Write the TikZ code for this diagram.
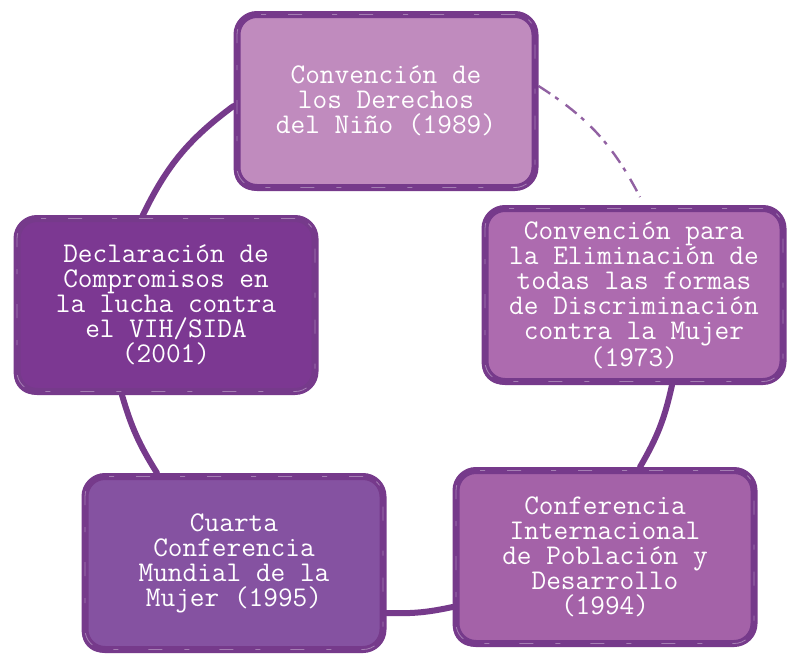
\documentclass[tikz,border=0pt]{standalone}
\usetikzlibrary{shadows,backgrounds,calc}
\definecolor{bord}{HTML}{763A8B}
\definecolor{fA}{HTML}{C08BBE}
\definecolor{fB}{HTML}{AD6BAF}
\definecolor{fC}{HTML}{A462A8}
\definecolor{fD}{HTML}{8552A1}
\definecolor{fE}{HTML}{7C3892}
\begin{document}
\begin{tikzpicture}[x=1pt,y=-1pt,
  stepbox/.style={draw=bord, fill=#1, line width=7pt, rounded corners=20pt,
    minimum width=298pt, minimum height=173pt, inner sep=0pt,
    text=white, align=center,
    font=\ttfamily\fontsize{28.5}{25}\selectfont,
    general shadow={fill=bord, shadow xshift=-3pt, shadow yshift=-3pt},
    postaction={draw=white, opacity=0.35, line width=0.8pt,
      dash pattern=on 14pt off 22pt on 5pt off 30pt}},
  link/.style={draw=bord, line width=6pt, line cap=round},
  faint/.style={draw=bord, line width=2.4pt, opacity=0.8,
    dash pattern=on 14pt off 6pt on 4pt off 9pt}]
\useasboundingbox (0,0) rectangle (787,656);
\node[stepbox=fA] (b1) at (386,101) {Convención de\\los Derechos\\del Niño (1989)};
\node[stepbox=fB] (b2) at (634,295) {Convención para\\la Eliminación de\\todas las formas\\de Discriminación\\contra la Mujer\\(1973)};
\node[stepbox=fC] (b3) at (605,557) {Conferencia\\Internacional\\de Población y\\Desarrollo\\(1994)};
\node[stepbox=fD] (b4) at (234,563) {Cuarta\\Conferencia\\Mundial de la\\Mujer (1995)};
\node[stepbox=fE] (b5) at (166,305) {Declaración de\\Compromisos en\\la lucha contra\\el VIH/SIDA\\(2001)};
\begin{scope}[on background layer]
  \draw[faint] ($(b1.east)+(0,-15)$) to[bend left=15] ($(b2.north)+(6,-8)$);
  \draw[link] ($(b2.south)+(38,0)$) to[bend left=9] ($(b3.north)+(35,0)$);
  \draw[link] ($(b3.west)+(0,50)$) to[bend left=7] ($(b4.east)+(0,50)$);
  \draw[link] ($(b4.north)+(-77,0)$) to[bend left=8] ($(b5.south)+(-44,0)$);
  \draw[link] ($(b5.north)+(-24,2)$) to[bend left=14] ($(b1.west)+(0,5)$);
\end{scope}
\end{tikzpicture}
\end{document}
